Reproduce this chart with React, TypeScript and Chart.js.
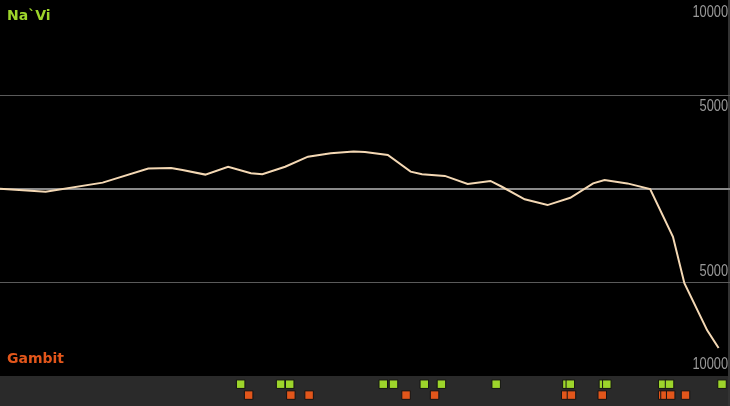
import React, { useEffect, useRef } from "react";
import { Chart, registerables } from "chart.js";

Chart.register(...registerables);

// Net worth advantage (Na`Vi positive, Gambit negative), time in minutes
const minutes = [0, 2, 4.5, 6.5, 7.5, 8, 9, 10, 11, 11.5, 12.5, 13.5, 14.5, 15.5, 16, 17, 18, 18.5, 19.5, 20.5, 21.5, 22, 23, 24, 25, 26, 26.5, 27.5, 28.5, 29.5, 30, 31, 31.5];
const advantage = [20, -150, 340, 1090, 1120, 1020, 770, 1190, 840, 790, 1190, 1730, 1910, 2000, 1980, 1820, 930, 790, 700, 270, 430, 120, -550, -860, -470, 305, 480, 300, 0, -2560, -5040, -7560, -8500];

// Kill events (minutes)
const naviKillTimes = [10.55, 12.3, 12.7, 16.8, 17.25, 18.6, 19.35, 21.75, 24.85, 25.0, 26.45, 26.6, 29.05, 29.35, 31.65];
const gambitKillTimes = [10.9, 12.75, 13.55, 17.8, 19.05, 24.8, 25.05, 26.4, 29.05, 29.15, 29.4, 30.05];

const yTickValues = [10000, 5000, 0, -5000, -10000];
const yLabelValues = [10000, 5000, -5000, -10000];
const yLabelTexts = ["10000", "5000", "5000", "10000"];

const teamTop = "Na`Vi";
const teamBottom = "Gambit";

const GREEN = "#9dd52b";
const ORANGE = "#e2561b";

const decorPlugin = {
  id: "decor",
  beforeDraw(chart: any) {
    const { ctx, width, height } = chart;
    const y2 = chart.scales.y2;
    ctx.save();
    ctx.fillStyle = "#000";
    ctx.fillRect(0, 0, width, height);
    ctx.fillStyle = "#2a2a2a";
    ctx.fillRect(0, y2.top, width, y2.bottom - y2.top);
    ctx.fillStyle = "#333";
    ctx.fillRect(width - 2, 0, 2, height);
    ctx.restore();
  },
  afterDraw(chart: any) {
    const { ctx, chartArea } = chart;
    const y = chart.scales.y;
    ctx.save();
    ctx.font = '16px "Liberation Sans", sans-serif';
    ctx.fillStyle = "#9a9a9a";
    ctx.textAlign = "right";
    const sx = 0.8;
    yLabelValues.forEach((v, i) => {
      const py = y.getPixelForValue(v);
      ctx.save();
      ctx.translate(chartArea.right - 2, 0);
      ctx.scale(sx, 1);
      if (v > 0) {
        ctx.textBaseline = "top";
        ctx.fillText(yLabelTexts[i], 0, py + 3);
      } else {
        ctx.textBaseline = "bottom";
        ctx.fillText(yLabelTexts[i], 0, py - 3);
      }
      ctx.restore();
    });
    ctx.textAlign = "left";
    ctx.font = 'bold 14px "DejaVu Sans", sans-serif';
    ctx.textBaseline = "top";
    ctx.fillStyle = GREEN;
    ctx.fillText(teamTop, 7, 9);
    ctx.fillStyle = ORANGE;
    ctx.textBaseline = "bottom";
    ctx.fillText(teamBottom, 7, 366);
    ctx.restore();
  },
};

export default function App() {
  const ref = useRef<HTMLCanvasElement | null>(null);

  useEffect(() => {
    document.body.style.margin = "0";
    const canvas = ref.current;
    if (!canvas) return;
    const chart = new Chart(canvas, {
      type: "line",
      data: {
        datasets: [
          {
            type: "line",
            data: minutes.map((m, i) => ({ x: m, y: advantage[i] })),
            borderColor: "#f4d8b4",
            borderWidth: 2,
            pointRadius: 0,
            tension: 0,
            yAxisID: "y",
          },
          {
            type: "scatter",
            data: naviKillTimes.map((m) => ({ x: m, y: 2 })),
            pointStyle: "rect",
            pointRadius: 6,
            backgroundColor: GREEN,
            borderColor: "#141414",
            borderWidth: 1,
            yAxisID: "y2",
          },
          {
            type: "scatter",
            data: gambitKillTimes.map((m) => ({ x: m, y: 1 })),
            pointStyle: "rect",
            pointRadius: 6,
            backgroundColor: ORANGE,
            borderColor: "#141414",
            borderWidth: 1,
            yAxisID: "y2",
          },
        ] as any,
      },
      options: {
        responsive: false,
        animation: false,
        layout: { autoPadding: false, padding: { top: 2, left: 0, right: 0, bottom: 0 } },
        plugins: {
          legend: { display: false },
          tooltip: { enabled: false },
        },
        scales: {
          x: {
            type: "linear",
            min: 0,
            max: 32,
            display: false,
          },
          y: {
            type: "linear",
            position: "right",
            stack: "main",
            stackWeight: 374,
            min: -10000,
            max: 10000,
            display: true,
            border: { display: false },
            ticks: { display: false },
            afterBuildTicks: (scale: any) => {
              scale.ticks = yTickValues.map((v) => ({ value: v }));
            },
            grid: {
              drawTicks: false,
              color: (c: any) => {
                const v = c.tick && c.tick.value;
                if (v === 0) return "#8a8a8a";
                if (Math.abs(v) === 5000) return "#5a5a5a";
                return "rgba(0,0,0,0)";
              },
              lineWidth: (c: any) => (c.tick && c.tick.value === 0 ? 2 : 1),
            },
          },
          y2: {
            type: "linear",
            position: "right",
            stack: "main",
            stackWeight: 30,
            min: 0,
            max: 2.75,
            display: false,
          },
        } as any,
      },
      plugins: [decorPlugin],
    });
    return () => chart.destroy();
  }, []);

  return (
    <div style={{ position: "fixed", left: 0, top: 0, width: 730, height: 406 }}>
      <canvas ref={ref} width={730} height={406} style={{ display: "block" }} />
    </div>
  );
}
